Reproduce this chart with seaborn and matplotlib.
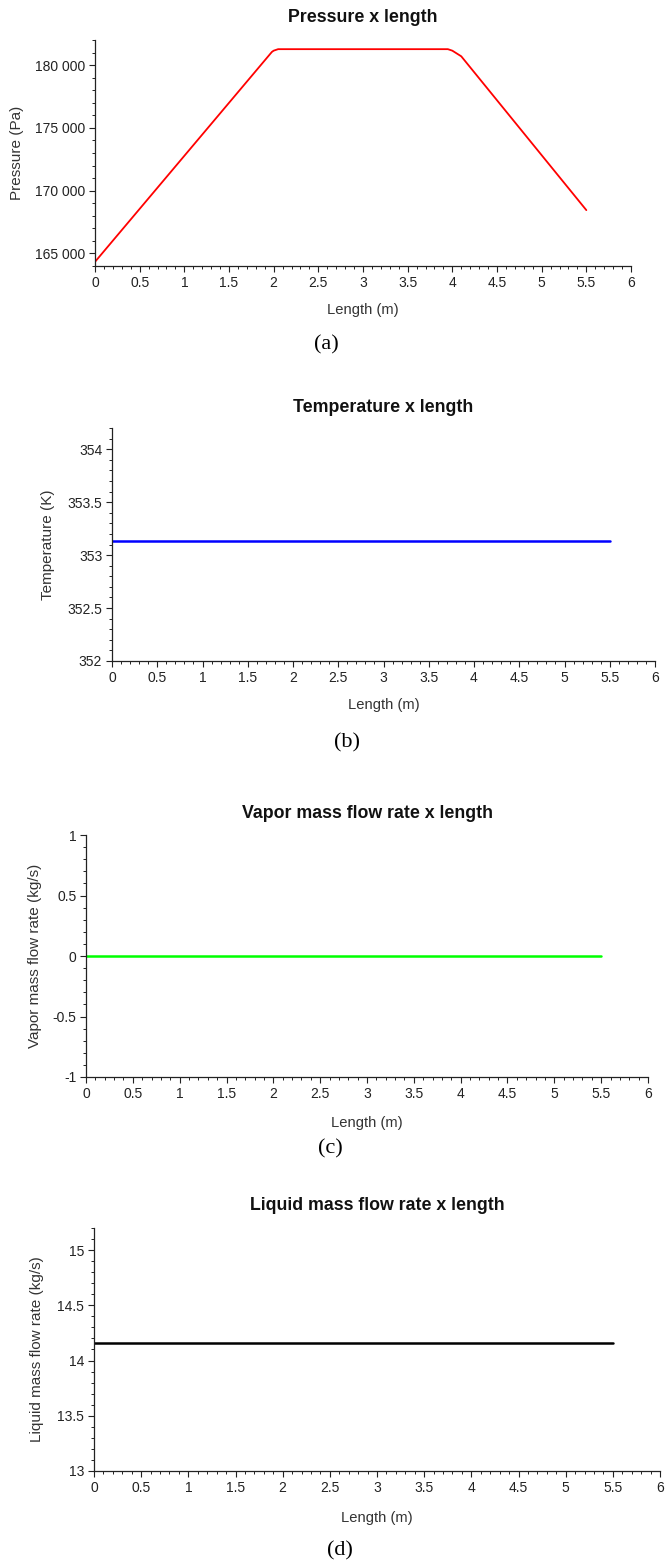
import pandas as pd
import seaborn as sns
import matplotlib
matplotlib.use("Agg")
import matplotlib.pyplot as plt
from matplotlib.ticker import MultipleLocator, FuncFormatter

# pressure profile along the tube
length_p = [0.0, 1.98, 2.0, 2.05, 3.95, 4.0, 4.1, 5.5]
pressure = [164330, 181050, 181150, 181270, 181270, 181150, 180700, 168450]

# the other profiles are flat
length_flat = [0.0, 5.5]
temperature = [353.133, 353.133]
vapor_flow = [-0.003, -0.003]
liquid_flow = [14.163, 14.163]

W, H = 665, 1564
sns.set_style("ticks")
plt.rcParams['font.family'] = ['Liberation Sans', 'DejaVu Sans']

fig = plt.figure(figsize=(W / 100, H / 100), dpi=100)


def px_rect(left, right, top, bottom):
    return [left / W, 1 - bottom / H, (right - left) / W, (bottom - top) / H]


panels = [
    # data, color, lw, rect(l, r, t, b), title_y, xlabel_y, tag_y, ylabel, ylabel_x, ylim, ymajor, yminor, tag
    (pd.DataFrame({"Length": length_p, "Value": pressure}), "#ff0000", 1.3,
     (95, 631, 40, 266), 17, 310, 345, "Pressure (Pa)", 17, (164000, 182000), 5000, 1000,
     "Pressure x length", "(a)"),
    (pd.DataFrame({"Length": length_flat, "Value": temperature}), "#0000ff", 1.8,
     (112, 655, 428, 661), 407, 705, 743, "Temperature (K)", 48, (352, 354.2), 0.5, 0.1,
     "Temperature x length", "(b)"),
    (pd.DataFrame({"Length": length_flat, "Value": vapor_flow}), "#00ff00", 1.8,
     (86, 648, 835, 1077), 813, 1123, 1149, "Vapor mass flow rate (kg/s)", 35, (-1, 1), 0.5, 0.1,
     "Vapor mass flow rate x length", "(c)"),
    (pd.DataFrame({"Length": length_flat, "Value": liquid_flow}), "#000000", 1.8,
     (94, 660, 1228, 1471), 1205, 1518, 1551, "Liquid mass flow rate (kg/s)", 37, (13, 15.2), 0.5, 0.1,
     "Liquid mass flow rate x length", "(d)"),
]

for (df, color, lw, rect, title_y, xlab_y, tag_y, ylabel, ylab_x, ylim, ymaj, ymin,
     title, tag) in panels:
    ax = fig.add_axes(px_rect(*rect))
    sns.lineplot(data=df, x="Length", y="Value", color=color, linewidth=lw, ax=ax)
    ax.set_xlim(0, 6)
    ax.set_ylim(*ylim)
    ax.xaxis.set_major_locator(MultipleLocator(0.5))
    ax.xaxis.set_minor_locator(MultipleLocator(0.1))
    ax.yaxis.set_major_locator(MultipleLocator(ymaj))
    ax.yaxis.set_minor_locator(MultipleLocator(ymin))
    ax.xaxis.set_major_formatter(FuncFormatter(lambda v, p: f"{v:g}"))
    if ymaj >= 1000:
        ax.yaxis.set_major_formatter(FuncFormatter(lambda v, p: f"{v:,.0f}".replace(",", " ")))
    else:
        ax.yaxis.set_major_formatter(FuncFormatter(lambda v, p: f"{v:g}"))
    ax.tick_params(which="major", length=4, width=0.8, colors="#222222", labelsize=10, pad=3)
    ax.tick_params(which="minor", length=2.2, width=0.7, colors="#222222")
    ax.set_xlabel("")
    ax.set_ylabel("")
    sns.despine(ax=ax)
    for s in ("left", "bottom"):
        ax.spines[s].set_color("#222222")
        ax.spines[s].set_linewidth(0.9)

    l, r, t, b = rect
    cx = (l + r) / 2 / W
    fig.text(cx, 1 - title_y / H, title, ha="center", va="center",
             fontsize=12.8, fontweight="bold", color="#111111")
    fig.text(cx, 1 - xlab_y / H, "Length (m)", ha="center", va="center",
             fontsize=10.6, color="#333333")
    fig.text(ylab_x / W, 1 - (t + b) / 2 / H, ylabel, ha="center", va="center",
             rotation=90, fontsize=11, color="#333333")
    fig.text(cx - 0.055, 1 - tag_y / H, tag, ha="center", va="center",
             fontsize=16, family=["Liberation Serif", "DejaVu Serif"], color="#000000")

fig.savefig("out.png", dpi=100)
